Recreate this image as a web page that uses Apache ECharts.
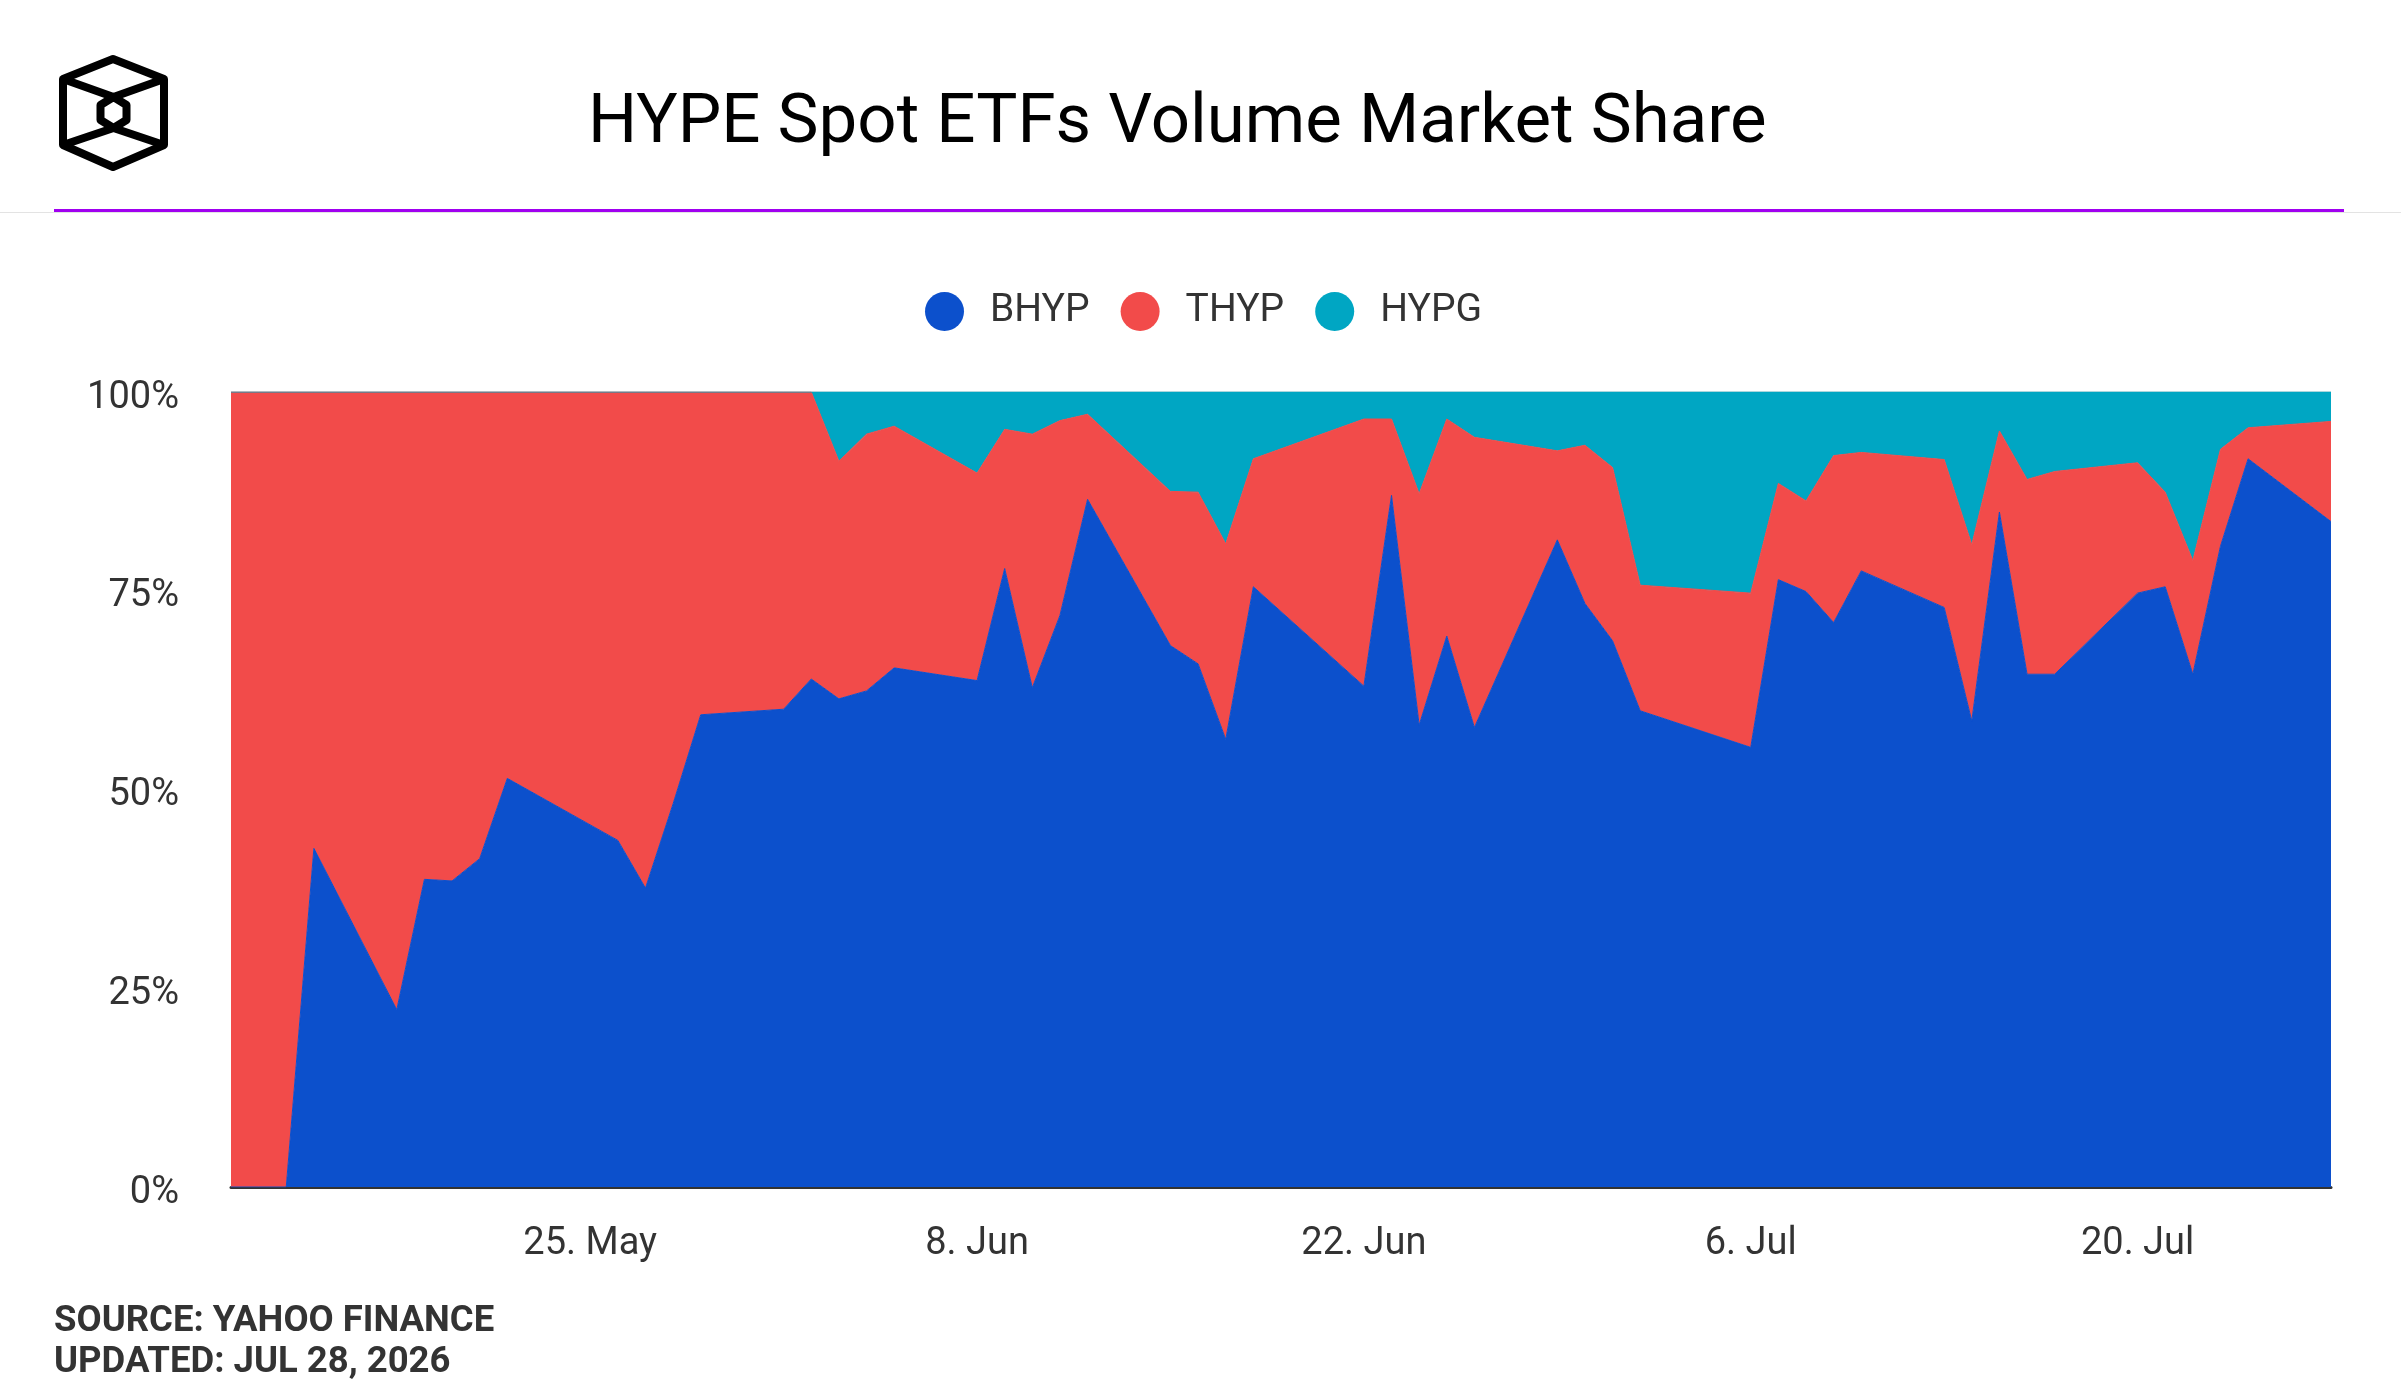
<!DOCTYPE html>
<html>
<head>
<meta charset="utf-8">
<title>HYPE Spot ETFs Volume Market Share</title>
<script src="https://cdn.jsdelivr.net/npm/echarts@6/dist/echarts.min.js"></script>
<style>
  html, body { margin: 0; padding: 0; background: #fff; }
  #chart { width: 2401px; height: 1400px; }
</style>
</head>
<body>
<div id="chart"></div>
<script>
// trading days
var dates = [
  '2026-05-12', '2026-05-13', '2026-05-14', '2026-05-15', '2026-05-18', '2026-05-19', '2026-05-20',
  '2026-05-21', '2026-05-22', '2026-05-26', '2026-05-27', '2026-05-28', '2026-05-29', '2026-06-01',
  '2026-06-02', '2026-06-03', '2026-06-04', '2026-06-05', '2026-06-08', '2026-06-09', '2026-06-10',
  '2026-06-11', '2026-06-12', '2026-06-15', '2026-06-16', '2026-06-17', '2026-06-18', '2026-06-22',
  '2026-06-23', '2026-06-24', '2026-06-25', '2026-06-26', '2026-06-29', '2026-06-30', '2026-07-01',
  '2026-07-02', '2026-07-06', '2026-07-07', '2026-07-08', '2026-07-09', '2026-07-10', '2026-07-13',
  '2026-07-14', '2026-07-15', '2026-07-16', '2026-07-17', '2026-07-20', '2026-07-21', '2026-07-22',
  '2026-07-23', '2026-07-24', '2026-07-27'
];

// market share in %
var bhyp = [
  0, 0, 0, 42.6, 22.3, 38.7, 38.5,
  41.3, 51.4, 43.6, 37.6, 48.2, 59.4, 60.1,
  63.9, 61.4, 62.4, 65.3, 63.7, 77.8, 62.8,
  71.9, 86.5, 68.1, 65.8, 56.3, 75.5, 63.0,
  87.0, 58.1, 69.3, 57.8, 81.4, 73.4, 68.7,
  59.9, 55.3, 76.4, 74.9, 71.0, 77.5, 72.9,
  58.6, 84.9, 64.5, 64.5, 74.7, 75.5, 64.5,
  80.6, 91.6, 83.7
];
var thyp = [
  100, 100, 100, 57.4, 77.7, 61.3, 61.5,
  58.7, 48.6, 56.4, 62.4, 51.8, 40.6, 39.9,
  36.1, 29.9, 32.3, 30.4, 26.1, 17.5, 31.9,
  24.5, 10.7, 19.4, 21.6, 24.6, 16.1, 33.6,
  9.6, 29.1, 27.3, 36.5, 11.2, 19.9, 21.8,
  15.8, 19.4, 12.1, 11.4, 21.0, 14.9, 18.6,
  22.2, 10.2, 24.5, 25.5, 16.4, 11.9, 14.3,
  12.2, 3.9, 12.6
];
var hypg = [
  0, 0, 0, 0, 0, 0, 0,
  0, 0, 0, 0, 0, 0, 0,
  0, 8.7, 5.3, 4.3, 10.2, 4.7, 5.3,
  3.6, 2.8, 12.5, 12.6, 19.1, 8.4, 3.4,
  3.4, 12.8, 3.4, 5.7, 7.4, 6.7, 9.5,
  24.3, 25.3, 11.5, 13.7, 8.0, 7.6, 8.5,
  19.2, 4.9, 11.0, 10.0, 8.9, 12.6, 21.2,
  7.2, 4.5, 3.7
];

var seriesNames = ['BHYP', 'THYP', 'HYPG'];
var colors = ['#0c50cc', '#f24b4a', '#00a6c3'];

var xTicks = ['2026-05-25', '2026-06-08', '2026-06-22', '2026-07-06', '2026-07-20'];
var months = ['Jan', 'Feb', 'Mar', 'Apr', 'May', 'Jun', 'Jul', 'Aug', 'Sep', 'Oct', 'Nov', 'Dec'];

function ts(s) {
  var p = s.split('-');
  return new Date(+p[0], +p[1] - 1, +p[2]).getTime();
}

function pairs(vals) {
  var out = [];
  for (var i = 0; i < dates.length; i++) {
    out.push([ts(dates[i]), vals[i]]);
  }
  return out;
}

var font = 'Roboto';
var xMin = ts(dates[0]);
var xMax = ts(dates[dates.length - 1]);

var myChart = echarts.init(document.getElementById('chart'));

// logo: cube outline
var logo = {
  type: 'group',
  children: [
    {
      type: 'polygon',
      shape: { points: [[113, 59], [164, 79], [164, 145], [113, 167], [63, 145], [63, 79]] },
      style: { fill: 'none', stroke: '#000', lineWidth: 8, lineJoin: 'round' }
    },
    {
      type: 'polygon',
      shape: { points: [[113.5, 97], [126.5, 105], [126.5, 120], [113.5, 128], [100.5, 120], [100.5, 105]] },
      style: { fill: 'none', stroke: '#000', lineWidth: 8, lineJoin: 'round' }
    },
    {
      type: 'polyline',
      shape: { points: [[63, 79], [113.5, 97], [164, 79]] },
      style: { fill: 'none', stroke: '#000', lineWidth: 8, lineJoin: 'round' }
    },
    {
      type: 'polyline',
      shape: { points: [[63, 145], [113.5, 128], [164, 145]] },
      style: { fill: 'none', stroke: '#000', lineWidth: 8, lineJoin: 'round' }
    }
  ]
};

var option = {
  animation: false,
  backgroundColor: '#fff',
  color: colors,
  title: {
    text: 'HYPE Spot ETFs Volume Market Share',
    left: 588,
    top: 90,
    padding: 0,
    textStyle: { fontFamily: font, fontSize: 69, fontWeight: 'normal', color: '#000' }
  },
  legend: {
    data: seriesNames,
    left: 925,
    top: 292,
    padding: 0,
    icon: 'circle',
    itemWidth: 39,
    itemHeight: 39,
    itemGap: 31,
    textStyle: { fontFamily: font, fontSize: 39, color: '#333', padding: [0, 0, 0, 21] }
  },
  grid: { left: 231, right: 70, top: 392, bottom: 213, containLabel: false },
  xAxis: [
    {
      // time axis carries the stacked series
      type: 'time',
      min: xMin,
      max: xMax,
      axisLine: { show: true, lineStyle: { color: '#333', width: 3 } },
      axisTick: { show: false },
      splitLine: { show: false },
      axisLabel: { show: false }
    },
    {
      // label-only axis so the dates sit on the chosen Mondays
      type: 'value',
      position: 'bottom',
      min: xMin,
      max: xMax,
      axisLine: { show: false },
      axisTick: { show: false },
      splitLine: { show: false },
      axisLabel: {
        customValues: xTicks.map(ts),
        fontFamily: font,
        fontSize: 38,
        color: '#333',
        margin: 38,
        formatter: function (v) {
          var d = new Date(v);
          return d.getDate() + '. ' + months[d.getMonth()];
        }
      }
    }
  ],
  yAxis: {
    type: 'value',
    min: 0,
    max: 100,
    interval: 25,
    axisLine: { show: false },
    axisTick: { show: false },
    splitLine: { show: true, lineStyle: { color: '#e6e6e6', width: 2 } },
    axisLabel: {
      fontFamily: font, fontSize: 38, color: '#333', margin: 52,
      verticalAlign: 'top', lineHeight: 12, formatter: '{value}%'
    }
  },
  series: [
    {
      name: seriesNames[0], type: 'line', stack: 'share', symbol: 'none', xAxisIndex: 0,
      lineStyle: { width: 1, color: colors[0] }, areaStyle: { color: colors[0], opacity: 1 },
      data: pairs(bhyp)
    },
    {
      name: seriesNames[1], type: 'line', stack: 'share', symbol: 'none', xAxisIndex: 0,
      lineStyle: { width: 1, color: colors[1] }, areaStyle: { color: colors[1], opacity: 1 },
      data: pairs(thyp)
    },
    {
      name: seriesNames[2], type: 'line', stack: 'share', symbol: 'none', xAxisIndex: 0,
      lineStyle: { width: 1, color: colors[2] }, areaStyle: { color: colors[2], opacity: 1 },
      data: pairs(hypg)
    }
  ],
  graphic: [
    logo,
    // header separator
    { type: 'rect', shape: { x: 0, y: 212, width: 2401, height: 1 }, style: { fill: '#e3e3e3' } },
    { type: 'rect', shape: { x: 54, y: 209, width: 2290, height: 3 }, style: { fill: '#a000f0' } },
    {
      type: 'text',
      style: { x: 54, y: 1322, text: 'SOURCE: YAHOO FINANCE', font: 'bold 36.5px Roboto', fill: '#333', verticalAlign: 'middle' }
    },
    {
      type: 'text',
      style: { x: 54, y: 1363, text: 'UPDATED: JUL 28, 2026', font: 'bold 36.5px Roboto', fill: '#333', verticalAlign: 'middle' }
    }
  ]
};

myChart.setOption(option);
</script>
</body>
</html>
